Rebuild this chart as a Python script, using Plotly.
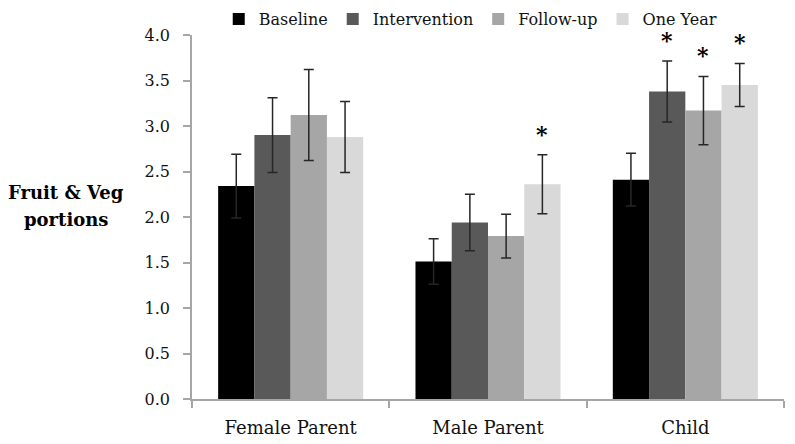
import plotly.graph_objects as go

categories = ["Female Parent", "Male Parent", "Child"]
series_names = ["Baseline", "Intervention", "Follow-up", "One Year"]
baseline = [2.34, 1.51, 2.41]
baseline_err = [0.35, 0.25, 0.29]
intervention = [2.90, 1.94, 3.38]
intervention_err = [0.41, 0.31, 0.335]
follow_up = [3.12, 1.79, 3.17]
follow_up_err = [0.50, 0.24, 0.375]
one_year = [2.88, 2.36, 3.45]
one_year_err = [0.39, 0.325, 0.237]
significant = [
    [False, False, False],
    [False, False, True],
    [False, False, True],
    [False, True, True],
]
colors = ["#000000", "#595959", "#a6a6a6", "#d9d9d9"]
y_ticks = [0, 0.5, 1, 1.5, 2, 2.5, 3, 3.5, 4]
y_tick_labels = ["0.0", "0.5", "1.0", "1.5", "2.0", "2.5", "3.0", "3.5", "4.0"]
y_title_lines = ["Fruit &amp; Veg", "portions"]

values = [baseline, intervention, follow_up, one_year]
errors = [baseline_err, intervention_err, follow_up_err, one_year_err]

FONT = "DejaVu Serif, Liberation Serif, serif"
TXT = "#111111"
bargap = 0.265

# the page body has an 8px default margin; size the figure to fit the window
BODY = 8
W, H = 795 - BODY, 444 - BODY
ml, mr, mt, mb = 184, 11, 27, 45
pw, ph = W - ml - mr, H - mt - mb


def px(X):
    return (X - BODY - ml) / pw


def py(Y):
    return (H - mb - (Y - BODY)) / ph


fig = go.Figure()
for name, vals, errs, col in zip(series_names, values, errors, colors):
    fig.add_trace(go.Bar(
        name=name, x=categories, y=vals, marker_color=col,
        marker_line_width=0,
        error_y=dict(type="data", array=errs, visible=True,
                     color="#262626", thickness=1.5, width=5),
    ))

n = len(series_names)
slot = (1 - bargap) / n
for i, (vals, errs, sig) in enumerate(zip(values, errors, significant)):
    for j, s in enumerate(sig):
        if s:
            fig.add_annotation(
                x=j - (1 - bargap) / 2 + (i + 0.5) * slot,
                y=vals[j] + errs[j], xref="x", yref="y",
                text="<b>*</b>", showarrow=False, yanchor="bottom",
                yshift=6, font=dict(family=FONT, size=22, color="#000"),
            )

for line, yc in zip(y_title_lines, [192, 219]):
    fig.add_annotation(
        x=px(66), y=py(yc), xref="paper", yref="paper",
        xanchor="center", yanchor="middle", text=f"<b>{line}</b>",
        showarrow=False, font=dict(family=FONT, size=18, color="#000"),
    )

fig.update_layout(
    template="none",
    width=W, height=H,
    margin=dict(l=ml, r=mr, t=mt, b=mb, pad=0, autoexpand=False),
    barmode="group", bargap=bargap, bargroupgap=0,
    plot_bgcolor="white", paper_bgcolor="white",
    font=dict(family=FONT, size=16, color=TXT),
    showlegend=True,
    legend=dict(orientation="h", x=0.47, xanchor="center",
                yref="container", y=1 - (19 - BODY) / H, yanchor="middle",
                font=dict(family=FONT, size=16, color=TXT),
                itemwidth=30, tracegroupgap=0, bgcolor="rgba(0,0,0,0)"),
    xaxis=dict(showgrid=False, showline=True, linecolor="#a6a6a6", linewidth=1.5,
               ticks="outside", tickson="boundaries", ticklen=7, tickcolor="#a6a6a6",
               tickwidth=1.5, ticklabelstandoff=12, automargin=False,
               tickfont=dict(family=FONT, size=18, color=TXT)),
    yaxis=dict(range=[0, 4], tickvals=y_ticks, ticktext=y_tick_labels,
               showgrid=False, zeroline=False, showline=True, linecolor="#a6a6a6",
               linewidth=1.5, ticks="outside", ticklen=7, tickcolor="#a6a6a6",
               tickwidth=1.5, ticklabelstandoff=10, automargin=False,
               tickfont=dict(family=FONT, size=16, color=TXT)),
)

fig.write_html("out.html")
